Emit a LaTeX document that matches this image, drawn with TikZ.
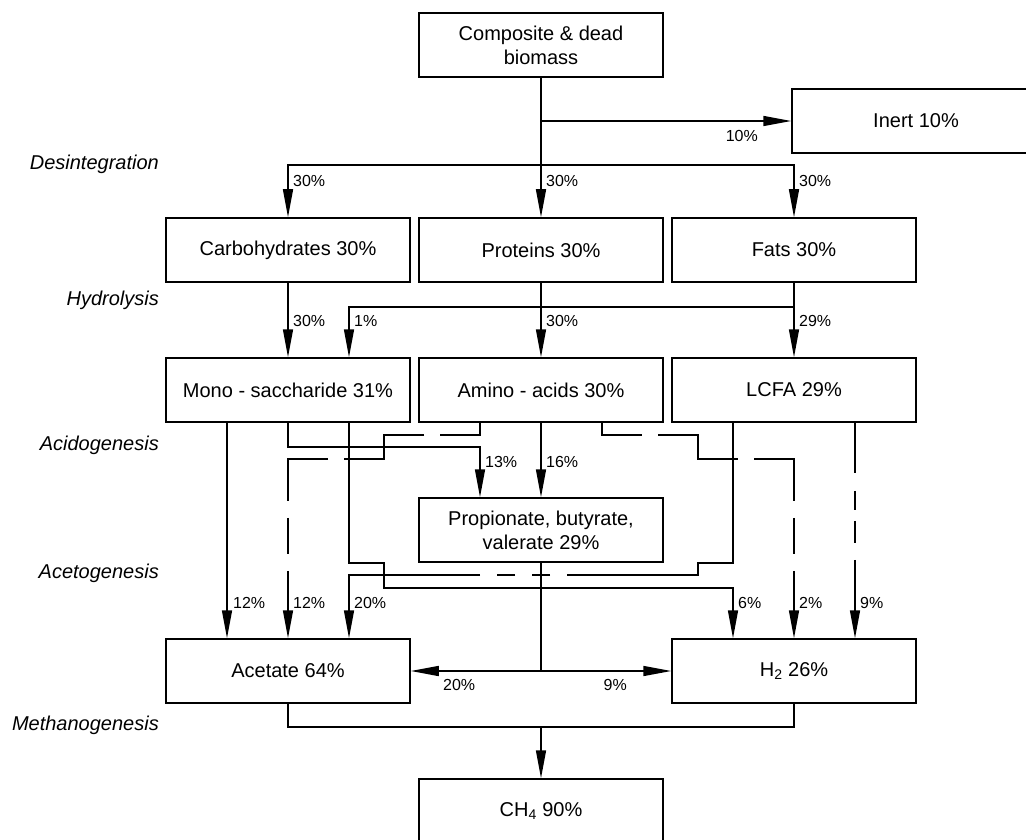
\documentclass[tikz,border=0pt]{standalone}
\usepackage{fontspec}
\setmainfont{Liberation Sans}
\usetikzlibrary{arrows.meta, calc}

\begin{document}
\begin{tikzpicture}[
  x=1pt, y=-1pt,
  box/.style={draw, line width=1.5pt, minimum width=244pt, minimum height=64pt, inner sep=2pt, align=center, font=\fontsize{20}{24}\selectfont},
  lbl/.style={anchor=base west, inner sep=0pt, font=\fontsize{16}{18}\selectfont},
  stage/.style={anchor=east, inner sep=0pt, font=\fontsize{20}{24}\selectfont\itshape},
  lnk/.style={line width=1.5pt},
  arr/.style={lnk, -{Triangle[length=28pt, width=10pt]}},
  dashA/.style={dash pattern=on 52pt off 16pt on 104pt off 16pt on 82pt off 17pt on 36pt off 17pt on 300pt off 1pt},
  dashB/.style={dash pattern=on 50pt off 18pt on 19pt off 11pt on 22pt off 17pt on 300pt off 1pt},
  dashC/.style={dash pattern=on 318pt off 17pt on 18pt off 17pt on 18pt off 17pt on 300pt off 1pt},
]
\useasboundingbox (0,0) rectangle (1026,840);

% Stages
\node[stage] (s1) at (159,164) {Desintegration};
\node[stage] (s2) at (159,300) {Hydrolysis};
\node[stage] (s3) at (159,445) {Acidogenesis};
\node[stage] (s4) at (159,573) {Acetogenesis};
\node[stage] (s5) at (159,725) {Methanogenesis};

% Boxes
\node[box] (comp) at (541,45) {Composite \& dead\\biomass};
\node[box, minimum width=248pt] (inert) at (916,121) {Inert 10\%};
\node[box] (carb) at (288,250) {Carbohydrates 30\%};
\node[box] (prot) at (541,250) {Proteins 30\%};
\node[box] (fats) at (794,250) {Fats 30\%};
\node[box] (mono) at (288,390) {Mono - saccharide 31\%};
\node[box] (amino) at (541,390) {Amino - acids 30\%};
\node[box] (lcfa) at (794,390) {LCFA 29\%};
\node[box] (prop) at (541,530) {Propionate, butyrate,\\valerate 29\%};
\node[box] (acet) at (288,671) {Acetate 64\%};
\node[box] (h2) at (794,671) {H\textsubscript{2} 26\%};
\node[box] (ch4) at (541,811) {CH\textsubscript{4} 90\%};

\coordinate (ij) at (541,121);
\coordinate (dj) at (541,165);
\coordinate (pj) at (541,671);
\coordinate (mj) at (541,727);

% Desintegration
\draw[arr] (comp) -- (prot);
\draw[arr] (ij) -- (inert);
\draw[arr] (dj) -| (carb);
\draw[arr] (dj) -| (fats);
\node[lbl, anchor=base east] (l10) at (758,142) {10\%};
\node[lbl] (l1) at (293,186) {30\%};
\node[lbl] (l2) at (546,186) {30\%};
\node[lbl] (l3) at (799,186) {30\%};

% Hydrolysis
\draw[arr] (carb) -- (mono);
\draw[arr] (prot) -- (amino);
\draw[arr] (fats) -- (lcfa);
\draw[arr] (fats.south) -- ++(0,24) -| ([xshift=61pt]mono.north);
\node[lbl] (l4) at (293,326) {30\%};
\node[lbl] (l5) at (354,326) {1\%};
\node[lbl] (l6) at (546,326) {30\%};
\node[lbl] (l7) at (799,326) {29\%};

% Acidogenesis / acetogenesis
\draw[arr] ([xshift=-61pt]mono.south) -- ([xshift=-61pt]acet.north);
\draw[arr] (mono.south) -- ++(0,24) -| ([xshift=-61pt]prop.north);
\draw[arr] (amino) -- (prop);
\draw[arr] ([xshift=61pt]mono.south) -- ++(0,140) -- ++(35,0) -- ++(0,25) -| ([xshift=-61pt]h2.north);
\draw[arr, dashA] ([xshift=-61pt]amino.south) -- ++(0,12) -- ++(-96,0) -- ++(0,24) -| (acet.north);
\draw[arr, dashA] ([xshift=61pt]amino.south) -- ++(0,12) -- ++(96,0) -- ++(0,24) -| (h2.north);
\draw[arr, dashB] ([xshift=61pt]lcfa.south) -- ([xshift=61pt]h2.north);
\draw[arr, dashC] ([xshift=-61pt]lcfa.south) -- ++(0,140) -- ++(-35,0) -- ++(0,12) -| ([xshift=61pt]acet.north);
\draw[lnk] (prop) -- (pj);
\draw[arr] (pj) -- (acet);
\draw[arr] (pj) -- (h2);
\node[lbl] (l8) at (485,467) {13\%};
\node[lbl] (l9) at (546,467) {16\%};
\node[lbl] (l11) at (233,608) {12\%};
\node[lbl] (l12) at (293,608) {12\%};
\node[lbl] (l13) at (354,608) {20\%};
\node[lbl] (l14) at (738,608) {6\%};
\node[lbl] (l15) at (799,608) {2\%};
\node[lbl] (l16) at (860,608) {9\%};
\node[lbl] (l17) at (443,690) {20\%};
\node[lbl, anchor=base east] (l18) at (627,690) {9\%};

% Methanogenesis
\draw[lnk] (acet.south) |- (mj) -| (h2.south);
\draw[arr] (mj) -- (ch4);

\end{tikzpicture}
\end{document}
